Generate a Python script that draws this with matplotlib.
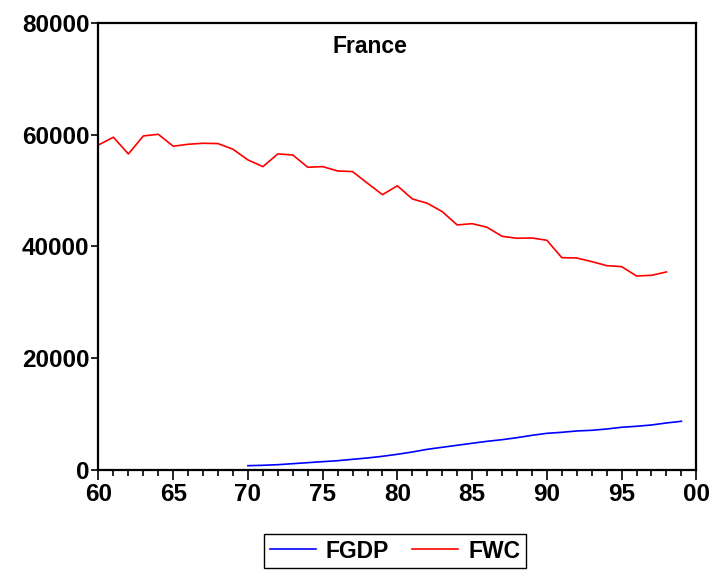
import matplotlib.pyplot as plt
from matplotlib.ticker import MultipleLocator, FuncFormatter

# years as two-digit values (1960 = 60, 2000 = 100)
fwc_years = list(range(60, 99))
fwc = [58140, 59520, 56530, 59750, 60050, 57910, 58260, 58440, 58380, 57370,
       55460, 54260, 56530, 56350, 54150, 54260, 53490, 53370, 51290, 49250,
       50830, 48480, 47710, 46210, 43830, 44060, 43410, 41800, 41450, 41500,
       41090, 37980, 37920, 37270, 36550, 36370, 34700, 34820, 35420]

fgdp_years = list(range(70, 100))
fgdp = [770, 840, 950, 1130, 1310, 1490, 1660, 1910, 2150, 2450,
        2810, 3220, 3700, 4060, 4420, 4780, 5130, 5420, 5780, 6200,
        6560, 6740, 6980, 7100, 7330, 7640, 7820, 8050, 8410, 8710]

yticks = [0, 20000, 40000, 60000, 80000]

plt.rcParams['font.family'] = ['Liberation Sans', 'DejaVu Sans']
plt.rcParams['font.weight'] = 'bold'

fig = plt.figure(figsize=(7.12, 5.71), dpi=100)
ax = fig.add_axes([0.1383, 0.1769, 0.8397, 0.7833])

ax.plot(fgdp_years, fgdp, color='#0000ff', lw=1.2, label='FGDP')
ax.plot(fwc_years, fwc, color='#ff0000', lw=1.2, label='FWC')

ax.set_xlim(60, 100)
ax.set_ylim(0, 80000)
ax.set_yticks(yticks)
ax.xaxis.set_major_locator(MultipleLocator(5))
ax.xaxis.set_minor_locator(MultipleLocator(1))
ax.xaxis.set_major_formatter(FuncFormatter(lambda v, p: '%02d' % (int(round(v)) % 100)))

for s in ax.spines.values():
    s.set_linewidth(1.6)

ax.tick_params(axis='x', which='major', length=7, width=1.2, pad=2.5, labelsize=17.5)
ax.tick_params(axis='x', which='minor', length=4.5, width=1.2)
ax.tick_params(axis='y', which='major', length=5, width=1.2, pad=1.5, labelsize=17.5)
for lab in ax.get_xticklabels() + ax.get_yticklabels():
    lab.set_fontweight('bold')

ax.text(0.454, 0.946, 'France', transform=ax.transAxes, ha='center', va='center',
        fontsize=16.5, fontweight='bold')

leg = fig.legend(loc='center', bbox_to_anchor=(395 / 712, 1 - 551 / 571), ncol=2,
                 fancybox=False, edgecolor='black', framealpha=1,
                 prop={'size': 16.5, 'weight': 'bold'}, handlelength=2.0,
                 columnspacing=1.0, handletextpad=0.45, borderpad=0.25,
                 borderaxespad=0)
leg.get_frame().set_linewidth(1.0)

fig.savefig('out.png', dpi=100)
